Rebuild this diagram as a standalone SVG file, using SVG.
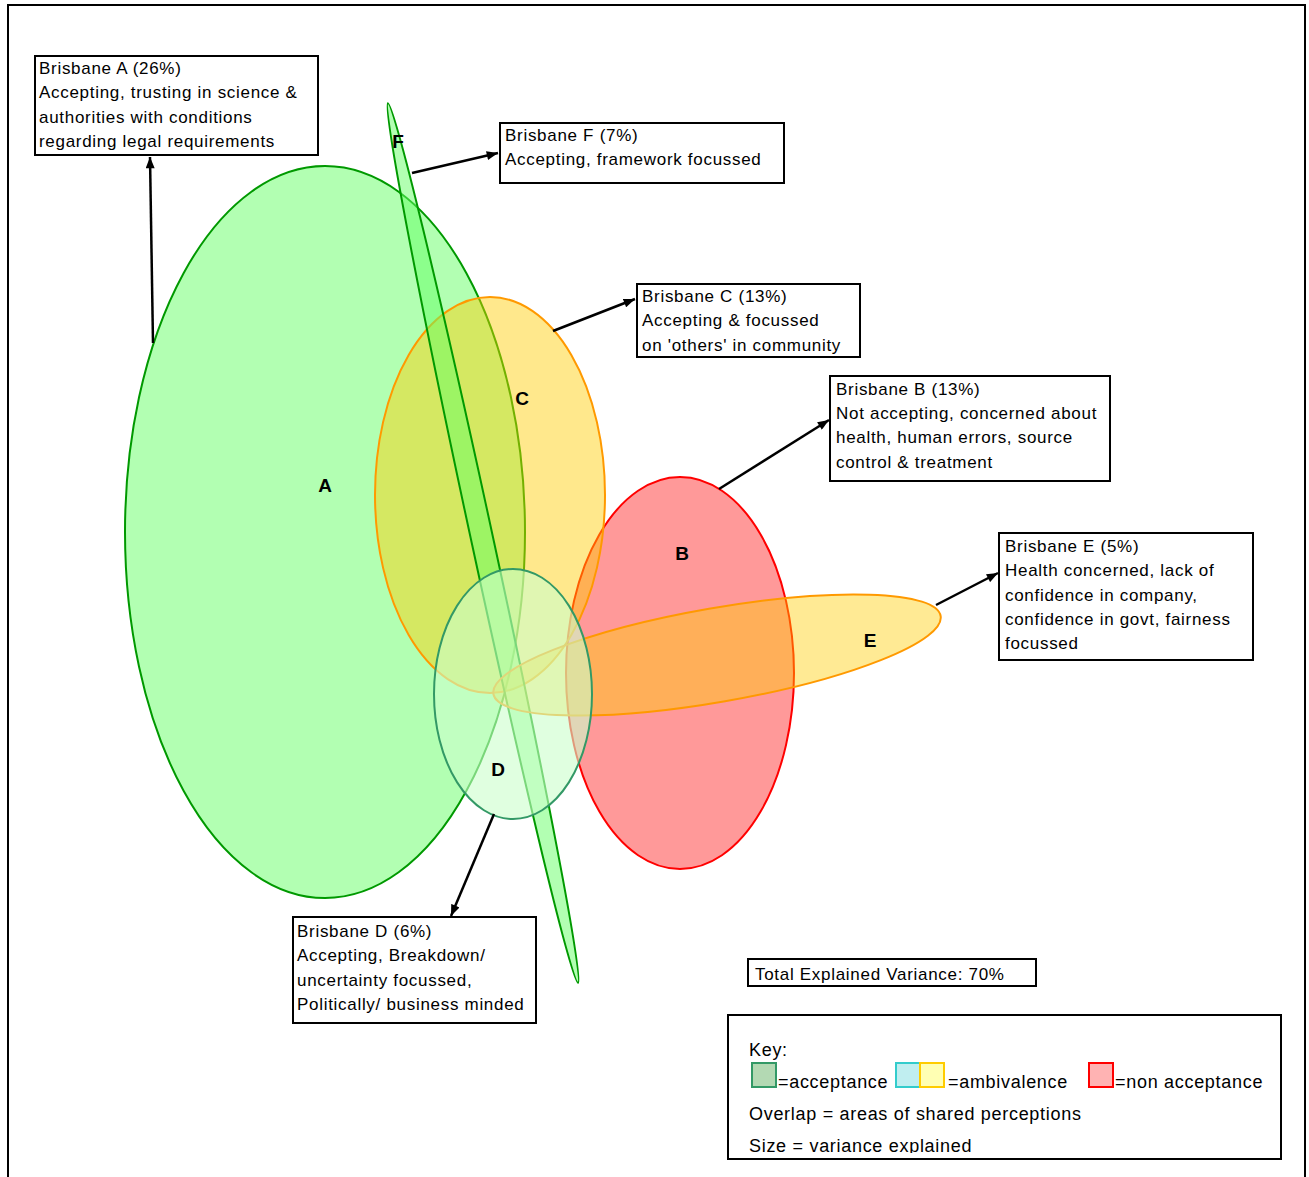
<svg xmlns="http://www.w3.org/2000/svg" width="1309" height="1177" viewBox="0 0 1309 1177">
<style>
.t{font-family:"Liberation Sans",Arial,sans-serif;font-size:17px;letter-spacing:0.7px;fill:#000}
.k{font-family:"Liberation Sans",Arial,sans-serif;font-size:18px;letter-spacing:0.7px;fill:#000}
.lbl{font-family:"Liberation Sans",Arial,sans-serif;font-size:19px;font-weight:bold;fill:#000;text-anchor:middle}
.box{fill:#fff;stroke:#000;stroke-width:2}
.conn{stroke:#000;stroke-width:2.5;fill:none;marker-end:url(#ah)}
</style>
<defs>
<marker id="ah" viewBox="0 0 10 8" refX="10" refY="4" markerWidth="12" markerHeight="9" markerUnits="userSpaceOnUse" orient="auto">
<path d="M0,0 L10,4 L0,8 z" fill="#000"/>
</marker>
<clipPath id="keyclip"><rect x="728" y="1015" width="553" height="138"/></clipPath>
</defs>
<rect width="1309" height="1177" fill="#fff"/>
<path d="M8,1177 V5 H1305 V1177" fill="none" stroke="#000" stroke-width="2"/>

<g id="ellipses">
<g id="node-A"><ellipse cx="325" cy="532" rx="200" ry="366" fill="#66ff66" fill-opacity="0.5" stroke="#009900" stroke-width="2"/></g>
<g id="node-B"><ellipse cx="680" cy="673" rx="114" ry="196" fill="#ff3333" fill-opacity="0.5" stroke="#ff0000" stroke-width="2"/></g>
<g id="node-C"><ellipse cx="490" cy="495" rx="115" ry="198" fill="#ffcc00" fill-opacity="0.45" stroke="#ff9900" stroke-width="2"/></g>
<g id="node-F"><ellipse cx="483" cy="543" rx="11" ry="450" transform="rotate(-12.2 483 543)" fill="#66ff66" fill-opacity="0.5" stroke="#009900" stroke-width="2"/></g>
<g id="node-E"><ellipse cx="717" cy="655" rx="227" ry="47" transform="rotate(-9.9 717 655)" fill="#ffcc00" fill-opacity="0.42" stroke="#ff9900" stroke-width="2"/></g>
<g id="node-D"><ellipse cx="513" cy="694" rx="79" ry="125" fill="#ccffcc" fill-opacity="0.6" stroke="#339966" stroke-width="2"/></g>
</g>

<g id="letters">
<text class="lbl" x="325" y="492">A</text>
<text class="lbl" x="522" y="405">C</text>
<text class="lbl" x="398" y="148">F</text>
<text class="lbl" x="682" y="560">B</text>
<text class="lbl" x="870" y="647">E</text>
<text class="lbl" x="498" y="776">D</text>
</g>

<g id="connectors">
<line class="conn" x1="153" y1="343" x2="150" y2="157"/>
<line class="conn" x1="412" y1="173" x2="498" y2="153"/>
<line class="conn" x1="553" y1="331" x2="635" y2="299"/>
<line class="conn" x1="719" y1="489" x2="829" y2="420"/>
<line class="conn" x1="936" y1="605" x2="998" y2="573"/>
<line class="conn" x1="494" y1="814" x2="451" y2="916"/>
</g>

<g id="box-A">
<rect class="box" x="35" y="56" width="283" height="99"/>
<text class="t" x="39" y="74">Brisbane A (26%)</text>
<text class="t" x="39" y="98">Accepting, trusting in science &amp;</text>
<text class="t" x="39" y="123">authorities with conditions</text>
<text class="t" x="39" y="147">regarding legal requirements</text>
</g>
<g id="box-F">
<rect class="box" x="500" y="123" width="284" height="60"/>
<text class="t" x="505" y="141">Brisbane F (7%)</text>
<text class="t" x="505" y="165">Accepting, framework focussed</text>
</g>
<g id="box-C">
<rect class="box" x="637" y="284" width="223" height="73"/>
<text class="t" x="642" y="302">Brisbane C (13%)</text>
<text class="t" x="642" y="326">Accepting &amp; focussed</text>
<text class="t" x="642" y="351">on 'others' in community</text>
</g>
<g id="box-B">
<rect class="box" x="830" y="376" width="280" height="105"/>
<text class="t" x="836" y="395">Brisbane B (13%)</text>
<text class="t" x="836" y="419">Not accepting, concerned about</text>
<text class="t" x="836" y="443">health, human errors, source</text>
<text class="t" x="836" y="468">control &amp; treatment</text>
</g>
<g id="box-E">
<rect class="box" x="999" y="533" width="254" height="127"/>
<text class="t" x="1005" y="552">Brisbane E (5%)</text>
<text class="t" x="1005" y="576">Health concerned, lack of</text>
<text class="t" x="1005" y="601">confidence in company,</text>
<text class="t" x="1005" y="625">confidence in govt, fairness</text>
<text class="t" x="1005" y="649">focussed</text>
</g>
<g id="box-D">
<rect class="box" x="293" y="917" width="243" height="106"/>
<text class="t" x="297" y="937">Brisbane D (6%)</text>
<text class="t" x="297" y="961">Accepting, Breakdown/</text>
<text class="t" x="297" y="986">uncertainty focussed,</text>
<text class="t" x="297" y="1010">Politically/ business minded</text>
</g>
<g id="total">
<rect class="box" x="748" y="959" width="288" height="27"/>
<text class="t" x="755" y="980">Total Explained Variance:  70%</text>
</g>
<g id="key">
<rect class="box" x="728" y="1015" width="553" height="144"/>
<g clip-path="url(#keyclip)">
<text class="k" x="749" y="1056">Key:</text>
<rect x="752" y="1063" width="24" height="24" fill="#b3d9b3" stroke="#339966" stroke-width="2"/>
<text class="k" x="778" y="1088">=acceptance</text>
<rect x="896" y="1063" width="24" height="24" fill="#c0eef0" stroke="#33cccc" stroke-width="2"/>
<rect x="920" y="1063" width="24" height="24" fill="#ffffb3" stroke="#ffcc00" stroke-width="2"/>
<text class="k" x="948" y="1088">=ambivalence</text>
<rect x="1089" y="1063" width="24" height="24" fill="#ffb3b3" stroke="#ff0000" stroke-width="2"/>
<text class="k" x="1115" y="1088">=non acceptance</text>
<text class="k" x="749" y="1120">Overlap = areas of shared perceptions</text>
<text class="k" x="749" y="1152">Size = variance explained</text>
</g>
</g>
</svg>
